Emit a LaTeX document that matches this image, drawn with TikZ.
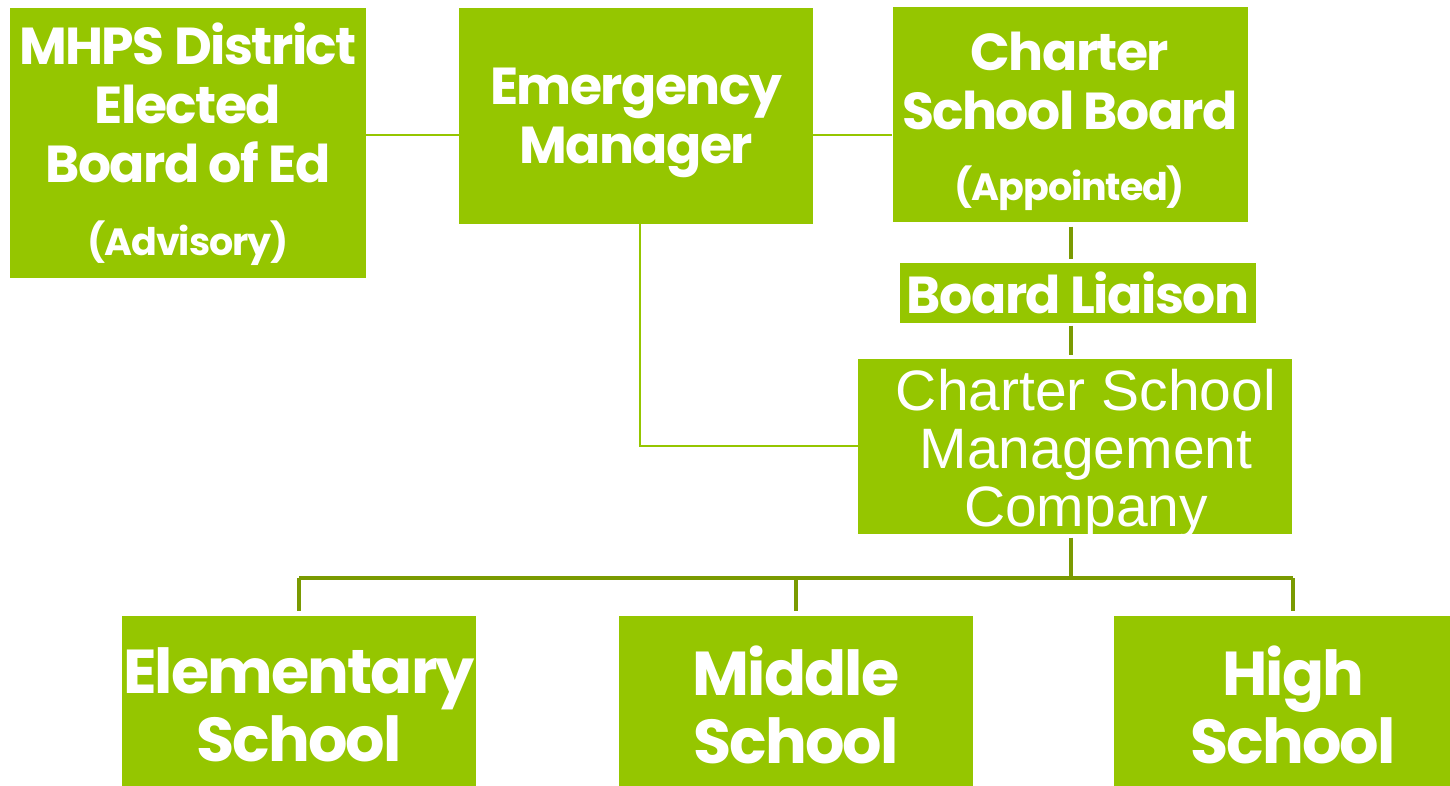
\documentclass[tikz,border=0pt]{standalone}
\usepackage{fontspec}
\setmainfont{Poppins}[LetterSpace=-3]
\newfontfamily\arialfont{Liberation Sans}
\usepackage[dvipsnames,rgb]{xcolor}
\usepackage{tikz}
\usetikzlibrary{positioning,calc}
\definecolor{boxgreen}{RGB}{149,198,0}
\definecolor{treegreen}{RGB}{122,154,1}

\begin{document}
\begin{tikzpicture}[x=1pt, y=-1pt,
  box/.style={fill=boxgreen, text=white, align=center, inner sep=0pt, font=\bfseries\fontsize{52}{59}\selectfont},
  school/.style={box, minimum width=354pt, minimum height=178pt, font=\bfseries\fontsize{62}{68}\selectfont},
  link/.style={draw=boxgreen, line width=2.5pt},
  tree/.style={draw=treegreen, line width=4pt}]
  \clip (0,0) rectangle (1450,786);
  \node[box, minimum width=356pt, minimum height=270pt] (mhps) at (188,143) {\rule{0pt}{45pt}MHPS District\\Elected\\Board of Ed\\[14pt]{\fontsize{38}{44}\selectfont (Advisory)}};
  \node[box, minimum width=354pt, minimum height=216pt] (em) at (636,116) {\rule{0pt}{50pt}Emergency\\Manager};
  \node[box, minimum width=355pt, minimum height=215pt] (csb) at (1070,115) {\rule{0pt}{52pt}Charter\\School Board\\[12pt]{\fontsize{38}{44}\selectfont (Appointed)}};
  \node[box, minimum width=356pt, minimum height=59pt] (liaison) at (1078,293) {Board Liaison};
  \node[box, minimum width=434pt, minimum height=175pt,
    label={[name=csmctext, xshift=11pt, yshift=-8pt, align=center, text=white, font=\arialfont\fontsize{57}{58}\selectfont]center:Charter School\\Management\\Company}] (csmc) at (1075,446) {};
  \node[school] (elem) at (299,705) {Elementary\\School};
  \node[school] (mid) at (796,705) {Middle\\School};
  \node[school, minimum width=358pt] (high) at (1293,705) {High\\School};
  \coordinate (row) at (0,135);
  \coordinate (spine) at (1071,0);
  \coordinate (bus) at (0,578);
  \draw[link] (mhps.east |- row) -- (em.west |- row);
  \draw[link] (em.east |- row) -- (csb.west |- row);
  \draw[link] ([xshift=4pt]em.south) |- (csmc.west);
  \draw[tree, shorten <=4pt, shorten >=4pt] (csb.south -| spine) -- (liaison.north -| spine);
  \draw[tree, shorten <=3pt, shorten >=3pt] (liaison.south -| spine) -- (csmc.north -| spine);
  \draw[tree, shorten <=4pt] (csmc.south -| spine) -- (bus -| spine);
  \draw[tree] (elem.north |- bus) -- (high.north |- bus);
  \draw[tree, shorten >=5pt] (elem.north |- bus) -- (elem.north);
  \draw[tree, shorten >=5pt] (mid.north |- bus) -- (mid.north);
  \draw[tree, shorten >=5pt] (high.north |- bus) -- (high.north);
\end{tikzpicture}
\end{document}
